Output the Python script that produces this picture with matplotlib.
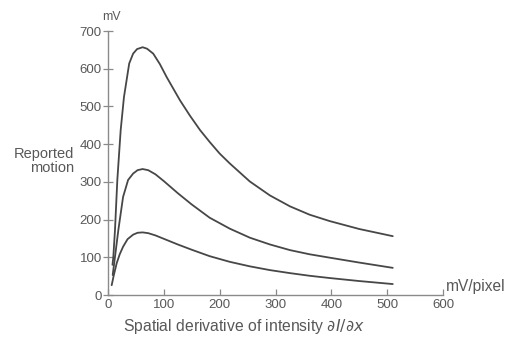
import matplotlib
matplotlib.use("Agg")
import matplotlib.pyplot as plt

plt.rcParams['font.family'] = ['Liberation Sans', 'DejaVu Sans']

# Spatial derivative of intensity (mV/pixel) and reported motion (mV)
x_top = [8, 9.5, 12.5, 16.7, 22.7, 28.6, 38, 45, 52, 62, 70, 81, 93, 105,
         117, 129, 147, 165, 182, 200, 218, 254, 290, 326, 361, 397, 450, 510]
y_top = [80, 100, 172, 305, 437, 525, 614, 640, 652, 657, 653, 640, 612,
         578, 547, 516, 475, 437, 406, 375, 349, 301, 264, 235, 213, 196,
         175, 156]

x_mid = [8.4, 12, 18.5, 27, 36, 45, 53, 62, 72, 85, 100, 125, 150, 182,
         218, 254, 290, 326, 361, 397, 450, 510]
y_mid = [53, 95, 172, 260, 305, 322, 331, 334, 331, 320, 302, 270, 240,
         205, 176, 152, 134, 119, 108, 99, 86, 72]

x_low = [6.6, 10, 15.5, 21, 27, 35, 45, 53, 62, 72, 85, 100, 125, 150, 182,
         218, 254, 290, 326, 361, 397, 450, 510]
y_low = [26, 50, 84, 108, 128, 148, 160, 165, 166, 164, 158, 149, 134, 120,
         103, 88, 76, 66, 58, 51, 45, 37, 29]

x_ticks = [0, 100, 200, 300, 400, 500, 600]
y_ticks = [0, 100, 200, 300, 400, 500, 600, 700]

W, H = 509, 345
fig = plt.figure(figsize=(W / 100, H / 100), dpi=100)
ax = fig.add_axes([108 / W, 1 - 295 / H, 335 / W, 264 / H])

line_color = '#474747'
axis_color = '#8a8a8a'
text_color = '#585858'

for xs, ys in [(x_top, y_top), (x_mid, y_mid), (x_low, y_low)]:
    ax.plot(xs, ys, color=line_color, lw=1.3, solid_capstyle='round',
            solid_joinstyle='round')

ax.set_xlim(0, 600)
ax.set_ylim(0, 700)
ax.set_xticks(x_ticks)
ax.set_yticks(y_ticks)
ax.set_xticklabels([str(v) for v in x_ticks])
ax.set_yticklabels([str(v) for v in y_ticks])

for s in ['top', 'right']:
    ax.spines[s].set_visible(False)
for s in ['left', 'bottom']:
    ax.spines[s].set_color(axis_color)
    ax.spines[s].set_linewidth(1.0)

ax.tick_params(axis='y', direction='inout', length=7, width=0.9,
               color=axis_color, labelcolor=text_color, labelsize=9.5, pad=1)
ax.tick_params(axis='x', direction='in', length=4, width=0.9,
               color=axis_color, labelcolor=text_color, labelsize=9.5, pad=3)
ax.patch.set_alpha(0)

fig.text(102 / W, 1 - 17 / H, 'mV', color=text_color, fontsize=8.8,
         ha='left', va='center')
fig.text(446 / W, 1 - 286 / H, 'mV/pixel', color=text_color, fontsize=11.2,
         ha='left', va='center')
fig.text(74 / W, 1 - 161 / H, 'Reported\nmotion', color=text_color,
         fontsize=10.5, ha='right', va='center', linespacing=1.05)
fig.text(123 / W, 1 - 326 / H,
         r'Spatial derivative of intensity $\partial I/\partial x$',
         color=text_color, fontsize=11.3, ha='left', va='center')

fig.savefig('out.png', dpi=100, facecolor='white')
